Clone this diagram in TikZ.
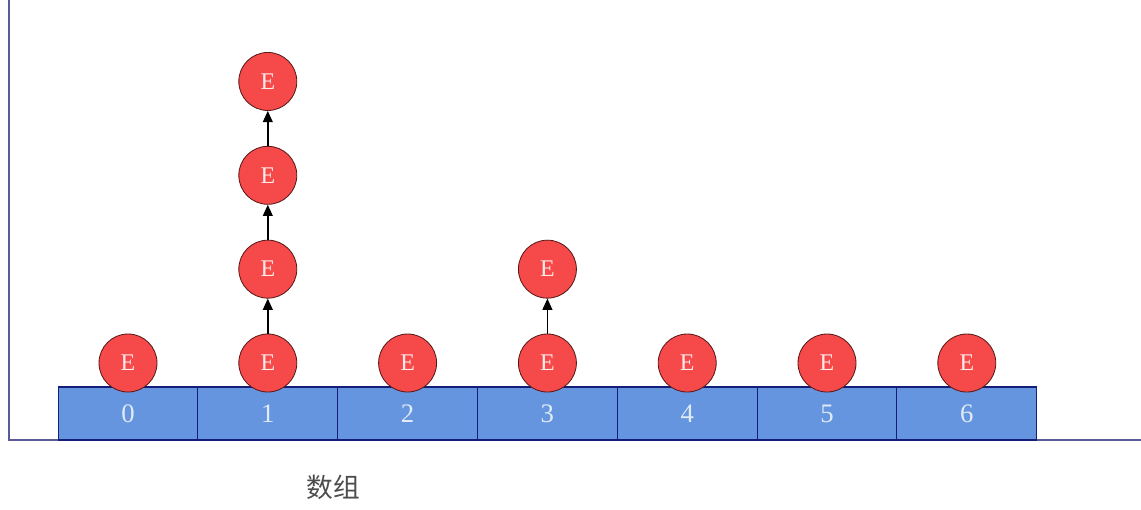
\documentclass[tikz,border=0pt]{standalone}
\usepackage{fontspec}
\setmainfont{Liberation Serif}
\newfontfamily\cjk{Noto Sans CJK SC}
\definecolor{cellblue}{RGB}{100,149,222}
\definecolor{navyline}{RGB}{20,30,120}
\definecolor{axisline}{RGB}{90,90,150}
\definecolor{entryred}{RGB}{246,74,74}
\definecolor{entryedge}{RGB}{90,25,25}
\usepackage{tikz}
\usetikzlibrary{arrows.meta, positioning}

\begin{document}
\begin{tikzpicture}[x=0.025cm, y=0.025cm,
  cell/.style={rectangle, draw=navyline, fill=cellblue, minimum width=139.8*0.025cm, minimum height=53*0.025cm, inner sep=0pt, outer sep=0pt, font=\fontsize{19}{19}\selectfont, text=white!80!cellblue, line width=0.8pt},
  entry/.style={circle, draw=entryedge, fill=entryred, minimum size=58*0.025cm, inner sep=0pt, font=\fontsize{17}{17}\selectfont, text=white!88!entryred, line width=0.6pt},
  link/.style={-{Triangle[length=8pt, width=7pt]}, line width=1pt, black},
  axis/.style={draw=axisline, line width=1pt}
]
  \useasboundingbox (0,0) rectangle (1141,509);

  % axes
  \coordinate (origin) at (9,69);
  \coordinate (ytop) at (9,509);
  \coordinate (xend) at (1141,69);
  \draw[axis] (ytop) -- (origin) -- (xend);

  % array cells
  \node[cell] (cell0) at (128,95.5) {0};
  \node[cell, right=0pt of cell0] (cell1) {1};
  \node[cell, right=0pt of cell1] (cell2) {2};
  \node[cell, right=0pt of cell2] (cell3) {3};
  \node[cell, right=0pt of cell3] (cell4) {4};
  \node[cell, right=0pt of cell4] (cell5) {5};
  \node[cell, right=0pt of cell5] (cell6) {6};

  % entries sitting on the cells
  \foreach \i in {0,...,6}
    \node[entry] (e\i) at ([yshift=24*0.025cm]cell\i.north) {E};

  % chain on bucket 1
  \node[entry, above=35*0.025cm of e1] (e1b) {E};
  \node[entry, above=35*0.025cm of e1b] (e1c) {E};
  \node[entry, above=35*0.025cm of e1c] (e1d) {E};
  \draw[link] (e1) -- (e1b);
  \draw[link] (e1b) -- (e1c);
  \draw[link] (e1c) -- (e1d);

  % chain on bucket 3
  \node[entry, above=35*0.025cm of e3] (e3b) {E};
  \draw[link] (e3) -- (e3b);

  \node[font=\cjk\fontsize{19}{19}\selectfont, text=black!70] (caption) at (333,22) {数组};
\end{tikzpicture}
\end{document}
